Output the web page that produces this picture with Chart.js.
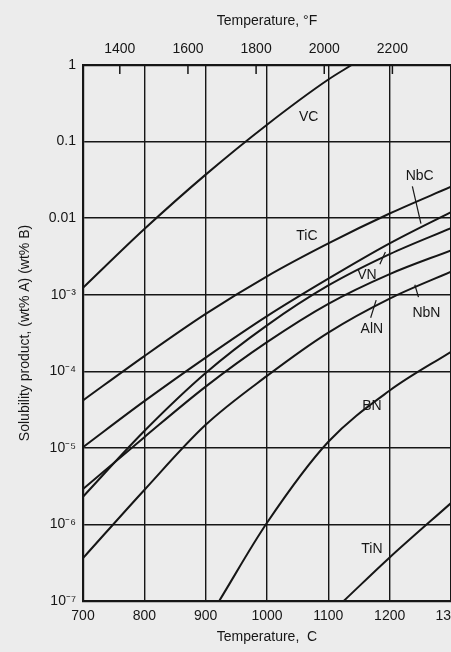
<!DOCTYPE html>
<html>
<head>
<meta charset="utf-8">
<style>
  html, body { margin: 0; padding: 0; background: #ececec; overflow: hidden; }
  #wrap { width: 451px; height: 652px; overflow: hidden; position: relative; }
  canvas { display: block; }
</style>
<script src="https://cdn.jsdelivr.net/npm/chart.js@4.4.1/dist/chart.umd.min.js"></script>
</head>
<body>
<div id="wrap"><canvas id="c" width="480" height="652"></canvas></div>
<script>
// Axis ticks
const tempTicksC = [700, 800, 900, 1000, 1100, 1200, 1300];
const tempTicksF = [1400, 1600, 1800, 2000, 2200];
const decadeTicks = [1e-7, 1e-6, 1e-5, 1e-4, 1e-3, 0.01, 0.1, 1];
const decadeLabels = ['10⁻⁷', '10⁻⁶', '10⁻⁵', '10⁻⁴', '10⁻³', '0.01', '0.1', '1'];

// Solubility products (wt% A)(wt% B) versus temperature, deg C
const vcT  = [700, 800, 900, 1000, 1100, 1138];
const vcK  = [1.23e-3, 7.2e-3, 3.7e-2, 0.166, 0.646, 1];

const ticT = [700, 800, 900, 1000, 1100, 1200, 1300];
const ticK = [4.17e-5, 1.58e-4, 5.62e-4, 1.74e-3, 4.68e-3, 1.15e-2, 2.57e-2];

const nbcT = [700, 800, 900, 1000, 1100, 1200, 1300];
const nbcK = [1.02e-5, 4.07e-5, 1.51e-4, 5.25e-4, 1.62e-3, 4.68e-3, 1.2e-2];

const vnT  = [700, 800, 900, 1000, 1100, 1200, 1300];
const vnK  = [2.3e-6, 1.66e-5, 9.5e-5, 3.98e-4, 1.32e-3, 3.39e-3, 7.41e-3];

const alnT = [700, 800, 900, 1000, 1100, 1200, 1300];
const alnK = [2.9e-6, 1.38e-5, 6.3e-5, 2.4e-4, 7.6e-4, 1.86e-3, 3.8e-3];

const nbnT = [700, 800, 900, 1000, 1100, 1200, 1300];
const nbnK = [3.63e-7, 2.82e-6, 2.0e-5, 8.7e-5, 3.2e-4, 8.9e-4, 2.0e-3];

const bnT  = [922, 1000, 1100, 1200, 1300];
const bnK  = [1e-7, 1.05e-6, 1.2e-5, 5.6e-5, 1.8e-4];

const tinT = [1125, 1200, 1300];
const tinK = [1e-7, 3.7e-7, 1.9e-6];

// Curve names placed at (T, value)
const curveLabels = [
  { text: 'VC',  t: 1068, v: 0.21 },
  { text: 'TiC', t: 1065, v: 5.9e-3 },
  { text: 'NbC', t: 1249, v: 3.5e-2 },
  { text: 'VN',  t: 1163, v: 1.8e-3 },
  { text: 'AlN', t: 1171, v: 3.5e-4 },
  { text: 'NbN', t: 1260, v: 5.8e-4 },
  { text: 'BN',  t: 1171, v: 3.5e-5 },
  { text: 'TiN', t: 1171, v: 4.8e-7 }
];
// Leader lines from a name to its curve
const leaders = [
  { t1: 1237, v1: 2.6e-2, t2: 1251, v2: 8.5e-3 },
  { t1: 1184, v1: 2.5e-3, t2: 1193, v2: 3.6e-3 },
  { t1: 1169, v1: 5.0e-4, t2: 1178, v2: 8.5e-4 },
  { t1: 1247, v1: 9.3e-4, t2: 1241, v2: 1.35e-3 }
];

const cToF = c => c * 9 / 5 + 32;
const pts = (ts, ks) => ts.map((t, i) => ({ x: t, y: ks[i] }));

const ink = '#161616';
const FONT = '"Liberation Sans", Arial, sans-serif';

function curve(label, ts, ks) {
  return {
    label, data: pts(ts, ks),
    borderColor: ink, borderWidth: 2,
    pointRadius: 0, fill: false,
    cubicInterpolationMode: 'monotone'
  };
}

const overlay = {
  id: 'overlay',
  afterDatasetsDraw(chart) {
    const { ctx, scales } = chart;
    const x = scales.x, y = scales.y, xf = scales.xF;
    ctx.save();
    // short inward ticks on the Fahrenheit axis
    ctx.strokeStyle = ink;
    ctx.lineWidth = 1.5;
    tempTicksF.forEach(f => {
      const px = xf.getPixelForValue(f);
      ctx.beginPath();
      ctx.moveTo(px, chart.chartArea.top);
      ctx.lineTo(px, chart.chartArea.top + 9);
      ctx.stroke();
    });
    // leader lines
    ctx.lineWidth = 1.2;
    leaders.forEach(l => {
      ctx.beginPath();
      ctx.moveTo(x.getPixelForValue(l.t1), y.getPixelForValue(l.v1));
      ctx.lineTo(x.getPixelForValue(l.t2), y.getPixelForValue(l.v2));
      ctx.stroke();
    });
    // curve names
    ctx.fillStyle = ink;
    ctx.font = '14px ' + FONT;
    ctx.textAlign = 'center';
    ctx.textBaseline = 'middle';
    curveLabels.forEach(c => {
      ctx.fillText(c.text, x.getPixelForValue(c.t), y.getPixelForValue(c.v));
    });
    ctx.restore();
  }
};

new Chart(document.getElementById('c'), {
  type: 'line',
  data: {
    datasets: [
      curve('VC', vcT, vcK),
      curve('TiC', ticT, ticK),
      curve('NbC', nbcT, nbcK),
      curve('VN', vnT, vnK),
      curve('AlN', alnT, alnK),
      curve('NbN', nbnT, nbnK),
      curve('BN', bnT, bnK),
      curve('TiN', tinT, tinK)
    ]
  },
  options: {
    responsive: false,
    animation: false,
    devicePixelRatio: 1,
    layout: { padding: { left: 0, right: 29, top: 0, bottom: 0 } },
    plugins: { legend: { display: false }, tooltip: { enabled: false } },
    scales: {
      x: {
        type: 'linear', position: 'bottom',
        min: 700, max: 1300,
        afterBuildTicks: s => { s.ticks = tempTicksC.map(v => ({ value: v })); },
        afterFit: s => { s.height = 51; },
        ticks: { color: ink, font: { family: FONT, size: 14 }, padding: 7, maxRotation: 0,
                 callback: v => String(v) },
        grid: { color: ink, lineWidth: 1.4, drawTicks: false },
        border: { color: ink, width: 2.2 },
        title: { display: true, text: 'Temperature,  C', color: ink,
                 font: { family: FONT, size: 14 }, padding: { top: 0, bottom: 6 } }
      },
      xF: {
        type: 'linear', position: 'top',
        min: cToF(700), max: cToF(1300),
        afterBuildTicks: s => { s.ticks = tempTicksF.map(v => ({ value: v })); },
        afterFit: s => { s.height = 65; },
        ticks: { color: ink, font: { family: FONT, size: 14 }, padding: 7, maxRotation: 0,
                 callback: v => String(v) },
        grid: { display: false, drawTicks: false },
        border: { color: ink, width: 2.2 },
        title: { display: true, text: 'Temperature, °F', color: ink,
                 font: { family: FONT, size: 14 }, padding: { top: 13, bottom: 0 } }
      },
      y: {
        type: 'logarithmic', position: 'left',
        min: 1e-7, max: 1,
        afterBuildTicks: s => { s.ticks = decadeTicks.map(v => ({ value: v })); },
        afterFit: s => { s.width = 83; },
        ticks: { color: ink, font: { family: FONT, size: 14 }, padding: 7,
                 callback: (v) => decadeLabels[decadeTicks.findIndex(d => Math.abs(Math.log10(d) - Math.log10(v)) < 1e-6)] },
        grid: { color: ink, lineWidth: 1.4, drawTicks: false },
        border: { color: ink, width: 2.2 },
        title: { display: true, text: 'Solubility product, (wt% A) (wt% B)', color: ink,
                 font: { family: FONT, size: 14 }, padding: { top: 17, bottom: 0 } }
      }
    }
  },
  plugins: [overlay]
});
</script>
</body>
</html>
